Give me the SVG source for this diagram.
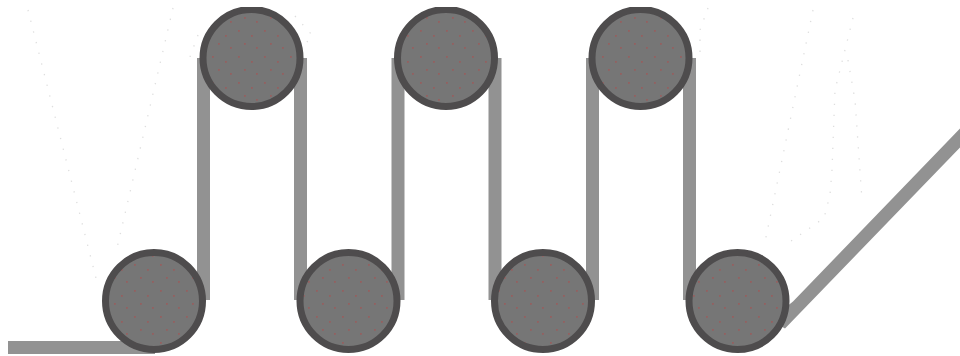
<svg xmlns="http://www.w3.org/2000/svg" width="960" height="356" viewBox="0 0 960 356">
<style>
.belt{fill:none;stroke:#929292;stroke-width:13}
.beltfill{fill:#929292}
.guide{fill:none;stroke:#dedede;stroke-width:1.3;stroke-dasharray:1.3 9.7}
.disc{fill:url(#speckle);stroke:#4e4c4d;stroke-width:7}
</style>
<defs>
<pattern id="speckle" width="26" height="26" patternUnits="userSpaceOnUse">
<rect width="26" height="26" fill="#767676"/>
<rect x="4" y="4" width="1.8" height="1.8" fill="#946060"/>
<rect x="17" y="9" width="1.8" height="1.8" fill="#946060"/>
<rect x="10" y="17" width="1.8" height="1.8" fill="#946060"/>
<rect x="22" y="21" width="1.8" height="1.8" fill="#946060"/>
</pattern>
<clipPath id="frame"><rect x="8" y="7" width="952" height="348"/></clipPath>
</defs>
<rect width="960" height="356" fill="#fff"/>
<g id="connectors" clip-path="url(#frame)">
<path class="guide" d="M28 10L97 282"/>
<path class="guide" d="M173 8L117 248"/>
<path class="guide" d="M198 35L187 65"/>
<path class="guide" d="M295 16L312 35L305 45"/>
<path class="guide" d="M708 8L700 30L700 52"/>
<path class="guide" d="M813 10L765 242"/>
<path class="guide" d="M853 18L835 90L832 170L830 195L824 218L784 246"/>
<path class="guide" d="M848 60L855 100L862 200"/>
<path class="belt" d="M8 347.500H155"/>
<path class="belt" d="M203.500 300V58"/>
<path class="belt" d="M300.500 58V300"/>
<path class="belt" d="M398 300V58"/>
<path class="belt" d="M495 58V300"/>
<path class="belt" d="M592.500 300V58"/>
<path class="belt" d="M689.500 58V300"/>
<path class="beltfill" d="M770 320L793 301.500L960 128.500V147.500L785 328.500Z"/>
</g>
<g clip-path="url(#frame)">
<g id="roller-1"><circle class="disc" cx="154" cy="301" r="48.500"/></g>
<g id="roller-2"><circle class="disc" cx="251.500" cy="58" r="48.500"/></g>
<g id="roller-3"><circle class="disc" cx="348.500" cy="301" r="48.500"/></g>
<g id="roller-4"><circle class="disc" cx="446" cy="58" r="48.500"/></g>
<g id="roller-5"><circle class="disc" cx="543" cy="301" r="48.500"/></g>
<g id="roller-6"><circle class="disc" cx="640.500" cy="58" r="48.500"/></g>
<g id="roller-7"><circle class="disc" cx="737.500" cy="301" r="48.500"/></g>
</g>
</svg>
